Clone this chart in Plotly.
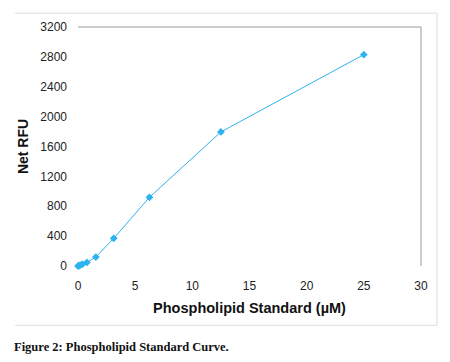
import plotly.graph_objects as go

conc = [0, 0.098, 0.195, 0.39, 0.78, 1.56, 3.125, 6.25, 12.5, 25]
rfu = [0, 5, 12, 25, 48, 120, 370, 920, 1795, 2830]

x_ticks = [0, 5, 10, 15, 20, 25, 30]
y_ticks = [0, 400, 800, 1200, 1600, 2000, 2400, 2800, 3200]

blue = "#2EB2F0"

# page has an 8px body margin, so the figure is sized/placed to compensate
W, H = 442, 354
L, R, T, B = 70, 29, 16, 96

fig = go.Figure()
fig.add_trace(go.Scatter(
    x=conc, y=rfu, mode="lines+markers",
    line=dict(color=blue, width=1),
    marker=dict(symbol="diamond", size=6, color=blue),
    cliponaxis=False, showlegend=False,
))

fig.update_layout(
    width=W, height=H,
    margin=dict(l=L, r=R, t=T, b=B),
    paper_bgcolor="white", plot_bgcolor="white",
    font=dict(family="Arial, Liberation Sans, sans-serif", size=12, color="#222"),
    xaxis=dict(range=[0, 30], tickvals=x_ticks, showgrid=False, zeroline=False,
               showline=False, ticks="", ticklabelstandoff=11,
               title=dict(text="<b>Phospholipid Standard (µM)</b>", font=dict(size=14.5, color="#111"), standoff=10)),
    yaxis=dict(range=[0, 3200], tickvals=y_ticks, showgrid=False, zeroline=False,
               showline=False, ticks="", ticklabelstandoff=10,
               title=dict(text="<b>Net RFU</b>", font=dict(size=14, color="#111"), standoff=8)),
    shapes=[
        dict(type="line", xref="paper", yref="paper", x0=0, x1=1, y0=1, y1=1,
             line=dict(color="#999", width=1)),
        dict(type="line", xref="paper", yref="paper", x0=1, x1=1, y0=0, y1=1,
             line=dict(color="#999", width=1)),
    ],
)

pw = W - L - R
ph = H - T - B
def px(x):
    return (x - 8 - L) / pw
def py(y):
    return (H - B - (y - 8)) / ph

fig.add_annotation(text="<b>Figure 2: Phospholipid Standard Curve.</b>", xref="paper", yref="paper",
                   x=px(12), y=py(348), xanchor="left", yanchor="middle", showarrow=False,
                   font=dict(family="Liberation Serif, Times New Roman, serif", size=12.5, color="#111"))

fig.add_shape(type="line", xref="paper", yref="paper", x0=px(15), x1=px(437), y0=py(10), y1=py(10),
              line=dict(color="#ddd", width=1))
fig.add_shape(type="line", xref="paper", yref="paper", x0=px(437), x1=px(437), y0=py(10), y1=py(326),
              line=dict(color="#ddd", width=1))
fig.add_shape(type="line", xref="paper", yref="paper", x0=px(15), x1=px(437), y0=py(326), y1=py(326),
              line=dict(color="#ddd", width=1))

fig.write_html("out.html")
